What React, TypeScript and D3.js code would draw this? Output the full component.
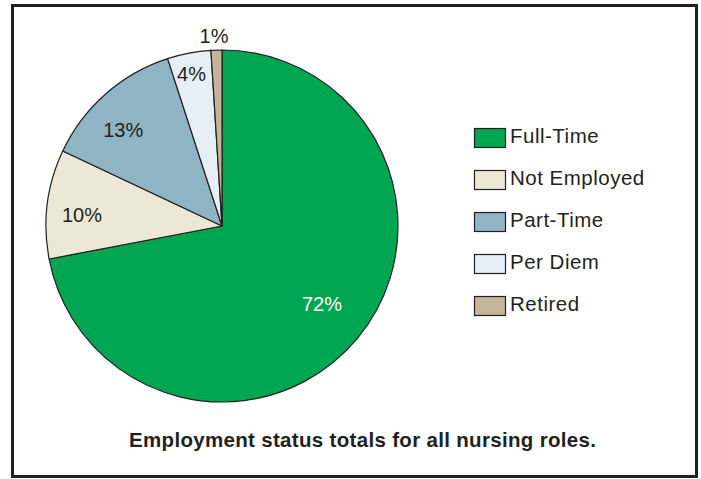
import React from "react";
import * as d3 from "d3";

const categories = ["Full-Time", "Not Employed", "Part-Time", "Per Diem", "Retired"];
const values = [72, 10, 13, 4, 1];
const labels = ["72%", "10%", "13%", "4%", "1%"];
const colors = ["#00a651", "#ede7d6", "#8fb4c4", "#e6eef6", "#c4b59b"];
const title = "Employment status totals for all nursing roles.";

const W = 701;
const H = 479;
const cx = 222;
const cy = 226;
const R = 176;
// label placement styling: radius and small angular nudge (degrees) per slice
const labelRadius = [126.5, 140.5, 138, 155.5, 190];
const labelNudge = [-1.8, -2.5, -4.3, -0.5, -0.6];
const labelColor = ["#ffffff", "#231f20", "#231f20", "#231f20", "#231f20"];

export default function App() {
  const data = categories.map((c, i) => ({ c, v: values[i], i }));
  const pie = d3.pie<any>().value((d) => d.v).sort(null);
  const arcs = pie(data);
  const arc = d3.arc<any>().innerRadius(0).outerRadius(R);
  const font = "'Liberation Sans', Arial, Helvetica, sans-serif";

  return (
    <svg width={W} height={H} style={{ position: "absolute", left: 0, top: 0, background: "#fff" }}>
      <rect x={12.5} y={5.5} width={684} height={471} fill="#fff" stroke="#231f20" strokeWidth={3} />
      <g transform={`translate(${cx},${cy})`}>
        {arcs.map((a, i) => (
          <path key={i} d={arc(a) as string} fill={colors[i]} stroke="#231f20" strokeWidth={1.2} strokeLinejoin="round" />
        ))}
        {arcs.map((a, i) => {
          const ang = (a.startAngle + a.endAngle) / 2 + (labelNudge[i] * Math.PI) / 180;
          const r = labelRadius[i];
          const x = Math.sin(ang) * r;
          const y = -Math.cos(ang) * r;
          return (
            <text key={i} x={x} y={y} dy="0.36em" textAnchor="middle" fontFamily={font} fontSize={20} fill={labelColor[i]}>
              {labels[i]}
            </text>
          );
        })}
      </g>
      <g transform="translate(474,128)">
        {categories.map((c, i) => (
          <g key={c} transform={`translate(0,${i * 42})`}>
            <rect x={0.5} y={0.5} width={31} height={19} fill={colors[i]} stroke="#231f20" strokeWidth={1.2} />
            <text x={36} y={14.5} fontFamily={font} fontSize={20.5} letterSpacing={0.5} fill="#231f20">
              {c}
            </text>
          </g>
        ))}
      </g>
      <text x={362.5} y={447} textAnchor="middle" fontFamily={font} fontSize={20.5} fontWeight="bold" fill="#231f20" textLength={467} lengthAdjust="spacing">
        {title}
      </text>
    </svg>
  );
}
